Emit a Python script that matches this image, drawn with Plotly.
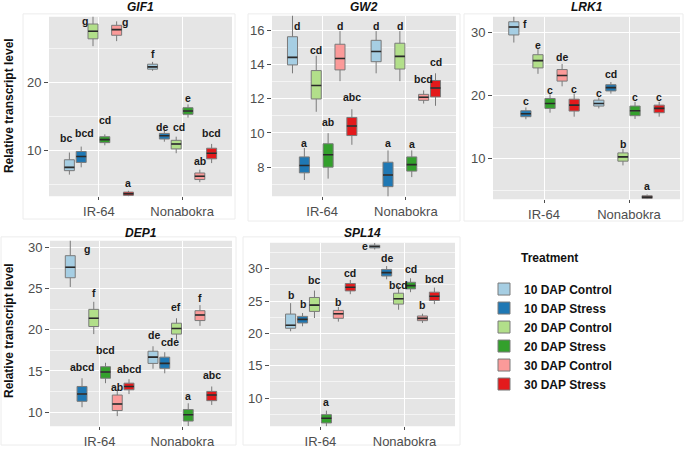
import plotly.graph_objects as go

# ---------------- data ----------------
treatments = ["10 DAP Control", "10 DAP Stress", "20 DAP Control",
              "20 DAP Stress", "30 DAP Control", "30 DAP Stress"]
genotypes = ["IR-64", "Nonabokra"]
genes = ["GIF1", "GW2", "LRK1", "DEP1", "SPL14"]

# each row = one treatment, [IR-64, Nonabokra]
GIF1_low = [[6.47, 21.69], [7.54, 11.3], [25.3, 9.61], [10.77, 14.83], [26.04, 5.36], [3.24, 8.16]]
GIF1_q1 = [[7.05, 21.93], [8.26, 11.69], [26.38, 10.24], [11.16, 15.31], [26.9, 5.75], [3.43, 8.79]]
GIF1_med = [[7.54, 22.27], [9.13, 12.17], [27.49, 10.97], [11.6, 15.8], [27.73, 6.23], [3.67, 9.61]]
GIF1_q3 = [[8.65, 22.66], [9.86, 12.51], [28.55, 11.5], [12.03, 16.28], [28.36, 6.71], [3.91, 10.34]]
GIF1_high = [[9.71, 23.0], [10.58, 13.0], [29.9, 12.03], [12.37, 16.76], [28.94, 7.2], [4.1, 10.97]]
GIF1_letters = [["bc", "f"], ["bcd", "de"], ["g", "cd"], ["cd", "e"], ["g", "ab"], ["a", "bcd"]]
GIF1_letter_y = [[11.79, 24.1], [12.61, 13.38], [29.03, 13.38], [14.54, 17.73], [28.84, 8.5], [5.17, 12.51]]

GW2_low = [[13.49, 13.49], [7.25, 6.2], [11.24, 13.03], [7.33, 7.42], [13.03, 11.72], [9.31, 11.59]]
GW2_q1 = [[13.98, 14.17], [7.67, 6.86], [11.99, 13.74], [8.0, 7.77], [13.69, 11.91], [9.85, 12.11]]
GW2_med = [[14.42, 14.77], [8.1, 7.54], [12.78, 14.48], [8.73, 8.15], [14.36, 12.09], [10.41, 12.63]]
GW2_q3 = [[15.63, 15.42], [8.6, 8.29], [13.65, 15.25], [9.37, 8.6], [15.19, 12.26], [10.91, 13.07]]
GW2_high = [[17.0, 15.96], [9.12, 8.98], [14.52, 15.96], [9.99, 8.98], [15.96, 12.49], [11.39, 13.49]]
GW2_letters = [["d", "d"], ["a", "a"], ["cd", "d"], ["ab", "a"], ["d", "bcd"], ["abc", "cd"]]
GW2_letter_y = [[16.25, 16.25], [9.41, 9.41], [14.84, 16.25], [10.62, 9.35], [16.25, 13.17], [12.11, 14.13]]

LRK1_low = [[28.43, 17.99], [16.27, 20.34], [23.47, 8.96], [17.31, 16.32], [21.49, 3.6], [16.68, 16.68]]
LRK1_q1 = [[29.63, 18.36], [16.68, 20.76], [24.41, 9.63], [17.99, 16.84], [22.32, 3.73], [17.57, 17.31]]
LRK1_med = [[30.89, 18.77], [17.15, 21.28], [25.56, 10.31], [18.77, 17.62], [23.21, 3.94], [18.51, 17.99]]
LRK1_q3 = [[31.72, 19.3], [17.62, 21.75], [26.5, 10.94], [19.56, 18.36], [24.15, 4.15], [19.45, 18.51]]
LRK1_high = [[33.0, 19.71], [18.15, 22.17], [27.39, 11.57], [20.24, 19.03], [25.04, 4.36], [20.34, 19.03]]
LRK1_letters = [["f", "c"], ["c", "cd"], ["e", "b"], ["c", "c"], ["de", "a"], ["c", "c"]]
LRK1_letter_y = [[31.3, 20.44], [19.14, 23.37], [28.07, 12.4], [20.86, 19.82], [26.08, 5.72], [21.12, 19.82]]

DEP1_low = [[25.2, 15.28], [10.6, 14.72], [19.48, 18.8], [13.52, 8.32], [9.52, 20.48], [12.2, 10.88]]
DEP1_q1 = [[26.32, 15.92], [11.32, 15.32], [20.4, 19.48], [14.12, 8.92], [10.2, 21.12], [12.72, 11.4]]
DEP1_med = [[27.6, 16.68], [12.2, 15.92], [21.4, 20.16], [14.88, 9.68], [11.0, 21.8], [13.12, 12.08]]
DEP1_q3 = [[29.0, 17.4], [13.12, 16.68], [22.48, 20.8], [15.52, 10.32], [12.08, 22.32], [13.52, 12.52]]
DEP1_high = [[31.0, 18.0], [14.12, 17.28], [23.4, 21.4], [16.0, 11.08], [12.8, 23.0], [14.0, 13.12]]
DEP1_letters = [["g", "de"], ["abcd", "cde"], ["f", "ef"], ["bcd", "a"], ["ab", "f"], ["abcd", "abc"]]
DEP1_letter_y = [[29.8, 19.4], [15.52, 18.48], [24.52, 22.8], [17.6, 11.92], [13.08, 23.92], [15.2, 14.48]]

SPL14_low = [[20.33, 32.97], [21.1, 28.36], [22.38, 23.66], [5.6, 26.37], [21.82, 21.61], [26.06, 24.53]]
SPL14_q1 = [[20.79, 33.22], [21.61, 28.87], [23.4, 24.53], [6.16, 26.88], [22.33, 21.97], [26.57, 25.09]]
SPL14_med = [[21.25, 33.43], [22.17, 29.39], [24.37, 25.35], [6.88, 27.39], [23.04, 22.33], [27.14, 25.75]]
SPL14_q3 = [[22.99, 33.63], [22.63, 29.9], [25.55, 26.21], [7.44, 27.9], [23.55, 22.69], [27.7, 26.37]]
SPL14_high = [[24.68, 33.99], [23.15, 30.41], [26.62, 27.34], [8.06, 28.52], [24.07, 23.04], [28.26, 27.08]]
SPL14_letters = [["b", "e"], ["b", "de"], ["bc", "bcd"], ["a", "cd"], ["b", "b"], ["cd", "bcd"]]
SPL14_letter_y = [[25.86, 33.48], [24.53, 31.69], [28.26, 27.44], [9.33, 29.95], [24.88, 24.42], [29.39, 28.36]]

# ---------------- style ----------------
colors = ["#A6CEE3", "#1F78B4", "#B2DF8A", "#33A02C", "#FB9A99", "#E31A1C"]
W, H = 685, 449
FONT = "Liberation Sans, Arial, sans-serif"

stats = {
    "GIF1": (GIF1_low, GIF1_q1, GIF1_med, GIF1_q3, GIF1_high, GIF1_letters, GIF1_letter_y),
    "GW2": (GW2_low, GW2_q1, GW2_med, GW2_q3, GW2_high, GW2_letters, GW2_letter_y),
    "LRK1": (LRK1_low, LRK1_q1, LRK1_med, LRK1_q3, LRK1_high, LRK1_letters, LRK1_letter_y),
    "DEP1": (DEP1_low, DEP1_q1, DEP1_med, DEP1_q3, DEP1_high, DEP1_letters, DEP1_letter_y),
    "SPL14": (SPL14_low, SPL14_q1, SPL14_med, SPL14_q3, SPL14_high, SPL14_letters, SPL14_letter_y),
}

# panel layout in pixels: (left, right, top, bottom)
panel_px = {
    "GIF1": (49, 232, 16, 197),
    "GW2": (272, 456, 15, 197),
    "LRK1": (493, 680, 16, 200),
    "DEP1": (50, 232, 242, 429),
    "SPL14": (270, 455, 244, 429),
}
title_y_px = {"GIF1": 6, "GW2": 6, "LRK1": 6, "DEP1": 234, "SPL14": 234}
y_ranges = {"GIF1": [3.3, 29.6], "GW2": [6.3, 16.85], "LRK1": [3.6, 32.5],
            "DEP1": [8.3, 30.8], "SPL14": [5.66, 34.0]}
y_dtick = {"GIF1": 10, "GW2": 2, "LRK1": 10, "DEP1": 5, "SPL14": 5}
# outer faint frames (left, right, top, bottom) px
frames = [(23, 235, 13, 220), (248, 460, 13, 222), (464, 683, 13, 222),
          (1, 236, 238, 448), (243, 460, 238, 448)]
# sideways nudges (px) of some letters: (gene, treatment idx, genotype idx)
nudges = {("GIF1", 2, 0): -8, ("GIF1", 4, 0): 8, ("GW2", 0, 0): 5,
          ("GIF1", 0, 0): -3, ("GIF1", 1, 0): 3,
          ("GIF1", 1, 1): -2, ("GIF1", 2, 1): 3,
          ("LRK1", 0, 0): 11, ("DEP1", 0, 0): 17, ("SPL14", 0, 1): -10,
          ("DEP1", 0, 1): 1, ("DEP1", 1, 1): 5}

DODGE = 0.142
BOXW = 0.12

fig = go.Figure()
annotations = []
shapes = []

for gi, gene in enumerate(genes):
    low, q1, med, q3, high, letters, letter_y = stats[gene]
    ax = "" if gi == 0 else str(gi + 1)
    xref, yref = "x" + ax, "y" + ax
    for ti, tr in enumerate(treatments):
        xs = [g + (ti - 2.5) * DODGE for g in range(len(genotypes))]
        fig.add_trace(go.Box(
            x=xs, q1=q1[ti], median=med[ti], q3=q3[ti],
            lowerfence=low[ti], upperfence=high[ti],
            width=BOXW, whiskerwidth=0, boxpoints=False,
            fillcolor=colors[ti], line=dict(color="#7a7a7a", width=1),
            name=tr, legendgroup=tr, showlegend=(gi == 0),
            xaxis=xref, yaxis=yref, hoverinfo="skip"))
        # dark median line
        fig.add_trace(go.Box(
            x=xs, q1=med[ti], median=med[ti], q3=med[ti],
            lowerfence=med[ti], upperfence=med[ti],
            width=BOXW, whiskerwidth=0, boxpoints=False,
            fillcolor="rgba(0,0,0,0)", line=dict(color="#2a2a2a", width=1.6),
            name=tr, legendgroup=tr, showlegend=False,
            xaxis=xref, yaxis=yref, hoverinfo="skip"))
        for k in range(len(genotypes)):
            annotations.append(dict(
                x=xs[k], y=letter_y[ti][k], xref=xref, yref=yref,
                text="<b>%s</b>" % letters[ti][k], showarrow=False,
                xshift=nudges.get((gene, ti, k), 0),
                font=dict(family=FONT, size=10.5, color="#1a1a1a")))

    l, r, t, b = panel_px[gene]
    fig.layout["xaxis" + ax] = dict(
        domain=[l / W, r / W], anchor=yref, range=[-0.6, 1.6],
        tickvals=list(range(len(genotypes))), ticktext=genotypes,
        showgrid=True, gridcolor="white", gridwidth=1,
        ticks="outside", ticklen=3, tickcolor="#4d4d4d",
        tickfont=dict(family=FONT, size=13, color="#4d4d4d"),
        zeroline=False, showline=False, fixedrange=True)
    fig.layout["yaxis" + ax] = dict(
        domain=[1 - b / H, 1 - t / H], anchor=xref, range=y_ranges[gene],
        tick0=0, dtick=y_dtick[gene],
        showgrid=True, gridcolor="white", gridwidth=1,
        minor=dict(dtick=y_dtick[gene] / 2, tick0=0,
                   showgrid=True, gridcolor="#f4f4f4", gridwidth=0.6),
        ticks="outside", ticklen=4, tickcolor="#4d4d4d",
        tickfont=dict(family=FONT, size=13, color="#4d4d4d"),
        zeroline=False, showline=False, fixedrange=True)
    # panel background
    shapes.append(dict(type="rect", xref="paper", yref="paper",
                       x0=l / W, x1=r / W, y0=1 - b / H, y1=1 - t / H,
                       fillcolor="#E5E5E5", line=dict(width=0), layer="below"))
    # gene title
    annotations.append(dict(
        x=(l + r) / 2 / W, y=1 - title_y_px[gene] / H,
        xref="paper", yref="paper", text="<b><i>%s</i></b>" % gene,
        showarrow=False, xanchor="center", yanchor="middle",
        font=dict(family=FONT, size=12, color="#111111")))

for (l, r, t, b) in frames:
    shapes.append(dict(type="rect", xref="paper", yref="paper",
                       x0=l / W, x1=r / W, y0=1 - b / H, y1=1 - t / H,
                       line=dict(color="#ececec", width=1), layer="below"))

for yc in [106, 333]:
    annotations.append(dict(
        x=9 / W, y=1 - yc / H, xref="paper", yref="paper",
        text="<b>Relative transcript level</b>", textangle=-90,
        xanchor="center", yanchor="middle",
        showarrow=False, font=dict(family=FONT, size=12, color="#111111")))

# legend title
annotations.append(dict(
    x=549 / W, y=1 - 259 / H, xref="paper", yref="paper",
    text="<b>Treatment</b>", showarrow=False, xanchor="center", yanchor="middle",
    font=dict(family=FONT, size=12, color="#111111")))

fig.update_layout(
    width=W, height=H, margin=dict(l=0, r=0, t=0, b=0),
    paper_bgcolor="white", plot_bgcolor="rgba(0,0,0,0)",
    boxmode="overlay", showlegend=True,
    shapes=shapes, annotations=annotations,
    legend=dict(x=484 / W, y=1 - 276 / H, xanchor="left", yanchor="top",
                font=dict(family=FONT, size=12, color="#111111", weight="bold"),
                bgcolor="rgba(0,0,0,0)", tracegroupgap=0, itemclick=False),
)

fig.write_html("out.html", config={"displayModeBar": False},
               post_script="document.body.style.margin='0px';")
